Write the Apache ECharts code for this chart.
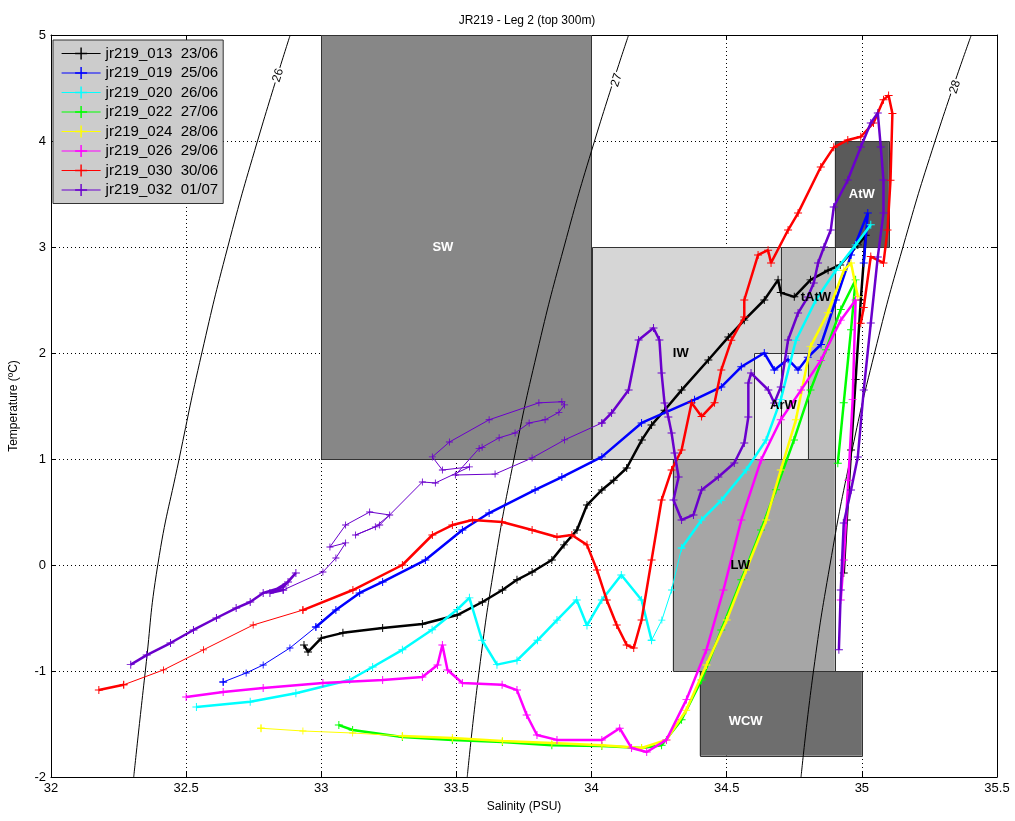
<!DOCTYPE html>
<html>
<head>
<meta charset="utf-8">
<script src="https://cdn.jsdelivr.net/npm/echarts@6/dist/echarts.min.js"></script>
<style>
html,body{margin:0;padding:0;background:#fff;}
#chart{width:1015px;height:821px;}
</style>
</head>
<body>
<div id="chart"></div>
<script>
// ---- data (salinity PSU, temperature degC) ----
const names = ['jr219_013  23/06','jr219_019  25/06','jr219_020  26/06','jr219_022  27/06','jr219_024  28/06','jr219_026  29/06','jr219_030  30/06','jr219_032  01/07'];

const s013 = [[32.936,-0.755],[32.951,-0.82],[33.0,-0.69],[33.08,-0.64],[33.227,-0.594],[33.374,-0.557],[33.503,-0.472],[33.596,-0.349],[33.67,-0.236],[33.724,-0.14],[33.78,-0.066],[33.853,0.047],[33.898,0.19],[33.946,0.33],[33.983,0.566],[34.038,0.708],[34.082,0.80],[34.13,0.915],[34.186,1.18],[34.222,1.32],[34.27,1.46],[34.333,1.65],[34.432,1.934],[34.506,2.15],[34.565,2.31],[34.639,2.5],[34.69,2.69],[34.70,2.57],[34.75,2.53],[34.81,2.69],[34.875,2.78],[34.92,2.83],[34.985,3.02],[35.014,3.11],[34.996,2.5],[34.977,1.75],[34.96,1.085],[34.944,0.425],[34.933,-0.076]];

const s019 = [[32.637,-1.104],[32.722,-1.019],[32.785,-0.943],[32.884,-0.783],[32.98,-0.585],[33.054,-0.425],[33.142,-0.264],[33.227,-0.16],[33.385,0.047],[33.522,0.33],[33.621,0.49],[33.791,0.708],[33.89,0.83],[34.038,1.02],[34.185,1.34],[34.381,1.56],[34.48,1.68],[34.554,1.87],[34.639,2.0],[34.676,1.84],[34.727,1.94],[34.764,1.84],[34.80,1.96],[34.849,2.08],[34.904,2.5],[34.96,2.925],[35.022,3.32],[35.007,2.85]];

const s020 = [[32.538,-1.34],[32.737,-1.29],[32.906,-1.21],[33.105,-1.085],[33.19,-0.962],[33.30,-0.80],[33.41,-0.61],[33.503,-0.42],[33.548,-0.31],[33.595,-0.71],[33.65,-0.94],[33.724,-0.90],[33.80,-0.71],[33.872,-0.52],[33.945,-0.33],[33.983,-0.57],[34.038,-0.33],[34.11,-0.094],[34.185,-0.33],[34.222,-0.71],[34.26,-0.52],[34.296,-0.236],[34.333,0.16],[34.407,0.425],[34.48,0.61],[34.572,0.896],[34.646,1.18],[34.70,1.56],[34.756,2.12],[34.83,2.5],[34.904,2.78],[34.977,3.02],[35.033,3.21]];

const s022 = [[33.065,-1.51],[33.116,-1.557],[33.30,-1.623],[33.485,-1.65],[33.67,-1.67],[33.853,-1.70],[34.038,-1.708],[34.185,-1.727],[34.259,-1.70],[34.333,-1.46],[34.407,-1.085],[34.48,-0.613],[34.554,-0.14],[34.627,0.33],[34.682,0.71],[34.749,1.18],[34.81,1.65],[34.867,2.03],[34.922,2.41],[34.977,2.69],[34.96,2.22],[34.933,1.53],[34.911,0.96]];

const s024 = [[32.777,-1.54],[32.932,-1.566],[33.116,-1.585],[33.30,-1.613],[33.485,-1.632],[33.67,-1.66],[33.853,-1.68],[34.038,-1.70],[34.185,-1.727],[34.277,-1.65],[34.35,-1.37],[34.425,-0.943],[34.50,-0.519],[34.572,-0.047],[34.646,0.425],[34.70,0.896],[34.756,1.37],[34.81,2.06],[34.874,2.38],[34.933,2.78],[34.96,2.85],[34.985,2.53]];

const s026 = [[32.50,-1.245],[32.637,-1.198],[32.785,-1.16],[33.006,-1.113],[33.227,-1.085],[33.374,-1.057],[33.43,-0.943],[33.448,-0.755],[33.467,-0.99],[33.522,-1.113],[33.669,-1.13],[33.724,-1.18],[33.76,-1.415],[33.798,-1.604],[33.872,-1.65],[34.038,-1.65],[34.104,-1.54],[34.148,-1.727],[34.204,-1.764],[34.277,-1.65],[34.351,-1.27],[34.425,-0.80],[34.488,-0.236],[34.554,0.425],[34.627,0.99],[34.70,1.37],[34.775,1.65],[34.848,1.93],[34.922,2.31],[34.977,2.5],[34.966,1.56],[34.95,0.80],[34.933,0.047],[34.922,-0.33]];

const s030 = [[32.177,-1.18],[32.269,-1.13],[32.416,-0.99],[32.564,-0.80],[32.748,-0.566],[32.932,-0.425],[33.117,-0.236],[33.30,0.0],[33.411,0.283],[33.485,0.377],[33.559,0.425],[33.669,0.406],[33.78,0.33],[33.872,0.264],[33.927,0.283],[33.983,0.19],[34.02,-0.047],[34.056,-0.33],[34.093,-0.566],[34.13,-0.755],[34.156,-0.783],[34.185,-0.519],[34.222,0.047],[34.259,0.613],[34.296,0.896],[34.333,1.085],[34.37,1.53],[34.407,1.40],[34.455,1.53],[34.48,1.84],[34.517,2.12],[34.565,2.34],[34.565,2.50],[34.616,2.925],[34.653,2.97],[34.664,2.85],[34.727,3.16],[34.764,3.32],[34.848,3.755],[34.896,3.94],[34.948,4.01],[34.996,4.04],[35.043,4.17],[35.08,4.39],[35.099,4.43],[35.113,4.26],[35.106,3.63],[35.095,3.16],[35.08,2.85],[35.033,2.91],[35.007,2.43],[34.996,2.28]];

const s032 = [[32.295,-0.94],[32.354,-0.85],[32.442,-0.736],[32.527,-0.613],[32.612,-0.50],[32.685,-0.406],[32.737,-0.349],[32.785,-0.264],[32.859,-0.208],[32.906,-0.075],[32.877,-0.16],[32.81,-0.264],[32.859,-0.236],[33.006,-0.066],[33.054,0.066],[33.09,0.208],[33.032,0.17],[33.09,0.377],[33.179,0.50],[33.253,0.472],[33.20,0.36],[33.127,0.283],[33.216,0.377],[33.374,0.783],[33.422,0.774],[33.548,0.925],[33.448,0.896],[33.411,1.02],[33.474,1.16],[33.621,1.37],[33.805,1.53],[33.89,1.54],[33.90,1.51],[33.879,1.44],[33.828,1.37],[33.769,1.34],[33.717,1.245],[33.658,1.20],[33.595,1.11],[33.584,1.10],[33.496,0.849],[33.643,0.858],[33.78,1.01],[33.90,1.18],[34.038,1.34],[34.074,1.434],[34.137,1.651],[34.174,2.123],[34.229,2.236],[34.251,2.123],[34.259,1.811],[34.27,1.528],[34.284,1.396],[34.296,1.245],[34.307,1.057],[34.322,0.83],[34.303,0.613],[34.333,0.425],[34.377,0.472],[34.407,0.708],[34.469,0.83],[34.528,0.962],[34.565,1.151],[34.58,1.396],[34.58,1.717],[34.59,1.811],[34.654,1.651],[34.676,1.528],[34.70,1.679],[34.727,2.123],[34.764,2.377],[34.80,2.528],[34.822,2.66],[34.838,2.849],[34.86,3.0],[34.885,3.16],[34.896,3.377],[34.948,3.632],[34.996,3.943],[35.033,4.17],[35.059,4.264],[35.07,3.943],[35.08,3.632],[35.08,3.32],[35.059,2.906],[35.033,2.283],[35.007,1.651],[34.985,1.019],[34.96,0.708],[34.933,0.396],[34.922,-0.236],[34.915,-0.80]];

const profiles = [s013,s019,s020,s022,s024,s026,s030,s032];
// index ranges of each cast that were drawn as a sparse thin line
const thinRanges = [[],[[0,4]],[[19,22]],[],[[0,3]],[],[[1,5]],[[12,44]]];

// isopycnals (sigma-t): salinity at T = -2..5
const isoT = [-2,-1,0,1,2,3,4,5];
const iso26 = [32.306,32.349,32.395,32.474,32.558,32.654,32.764,32.885];
const iso27 = [33.540,33.584,33.641,33.713,33.798,33.898,34.011,34.137];
const iso28 = [34.775,34.821,34.882,34.957,35.047,35.152,35.271,35.405];
const isoLabels = ['26','27','28'];
const isoLabelPos = [[32.84,4.62],[34.093,4.575],[35.345,4.51]];

// water-mass boxes: [Smin, Smax, Tmin, Tmax]
const boxNames = ['SW','IW','tAtW','ArW','LW','WCW','AtW'];
const boxExtents = [[33.0,34.0,1,5],[34.0,34.9,1,3],[34.7,34.9,1,3],[34.6,34.8,1,2],[34.3,34.9,-1,1],[34.4,35.0,-1.8,-1],[34.9,35.1,3,4]];
const boxLabelPos = [[33.45,3.0],[34.33,2.0],[34.83,2.52],[34.71,1.51],[34.55,0.0],[34.57,-1.48],[35.0,3.5]];

// ---- styles ----
const lineColors = ['#000000','#0000ff','#00ffff','#00ff00','#ffff00','#ff00ff','#ff0000','#6a00cc'];
const boxFills = ['#878787','#d6d6d6','#bdbdbd','#efefef','#a6a6a6','#6e6e6e','#5a5a5a'];
const boxTextColors = ['#ffffff','#000000','#000000','#000000','#000000','#ffffff','#ffffff'];
const FONT = 'Liberation Sans, Arial, Helvetica, sans-serif';
const PLUS = 'path://M0,4.4H10V5.6H0Z M4.4,0H5.6V10H4.4Z';

const chart = echarts.init(document.getElementById('chart'), null, {renderer:'canvas'});

function toPairs(arrS){ return arrS.map((s,i)=>[s, isoT[i]]); }

const series = [];
// box fills
series.push({
  type:'custom', z:1, silent:true, clip:true,
  data: boxExtents.map((b,i)=>[b[0],b[1],b[2],b[3],i]),
  renderItem(params, api){
    const i = api.value(4);
    const p0 = api.coord([api.value(0), api.value(3)]);
    const p1 = api.coord([api.value(1), api.value(2)]);
    return {type:'rect', shape:{x:p0[0], y:p0[1], width:p1[0]-p0[0], height:p1[1]-p0[1]}, style:{fill:boxFills[i], stroke:null}};
  }
});
// box borders
series.push({
  type:'custom', z:2, silent:true, clip:true,
  data: boxExtents.map((b,i)=>[b[0],b[1],b[2],b[3],i]),
  renderItem(params, api){
    const p0 = api.coord([api.value(0), api.value(3)]);
    const p1 = api.coord([api.value(1), api.value(2)]);
    return {type:'rect', shape:{x:Math.round(p0[0])+0.5, y:Math.round(p0[1])+0.5, width:Math.round(p1[0]-p0[0]), height:Math.round(p1[1]-p0[1])}, style:{fill:null, stroke:'#333333', lineWidth:1}};
  }
});
// isopycnals
[iso26, iso27, iso28].forEach((iso)=>{
  series.push({type:'line', z:3, silent:true, symbol:'none', data: toPairs(iso), smooth:true,
    lineStyle:{color:'#000', width:1}});
});
// profiles (thick dense parts + thin sparse parts, same legend name)
profiles.forEach((p,i)=>{
  const thick = p.map(v=>v.slice());
  thinRanges[i].forEach(([a,b])=>{ for(let k=a+1;k<b;k++) thick[k] = '-'; });
  series.push({type:'line', name:names[i], z:5+i, data:thick, symbol:PLUS, symbolSize:8,
    showAllSymbol:true, connectNulls:false,
    itemStyle:{color:lineColors[i]}, lineStyle:{color:lineColors[i], width:2.5}});
  thinRanges[i].forEach(([a,b])=>{
    series.push({type:'line', name:names[i], z:5+i, data:p.slice(a,b+1), symbol:PLUS, symbolSize:7,
      showAllSymbol:true,
      itemStyle:{color:lineColors[i]}, lineStyle:{color:lineColors[i], width:1}});
  });
});
// box labels
series.push({
  type:'custom', z:20, silent:true,
  data: boxLabelPos.map((p,i)=>[p[0],p[1],i]),
  renderItem(params, api){
    const i = api.value(2);
    const c = api.coord([api.value(0), api.value(1)]);
    return {type:'text', x:c[0], y:c[1], style:{text:boxNames[i], fill:boxTextColors[i], font:'bold 13px '+FONT, align:'center', verticalAlign:'middle'}};
  }
});
// isopycnal labels
series.push({
  type:'custom', z:20, silent:true,
  data: isoLabelPos.map((p,i)=>[p[0],p[1],i]),
  renderItem(params, api){
    const i = api.value(2);
    const c = api.coord([api.value(0), api.value(1)]);
    return {type:'text', x:c[0], y:c[1], rotation: 72*Math.PI/180,
      style:{text:isoLabels[i], fill:'#000', font:'12px '+FONT, align:'center', verticalAlign:'middle', backgroundColor:'#fff', padding:[0,1]}};
  }
});

const option = {
  animation:false,
  backgroundColor:'#ffffff',
  title:{text:'JR219 - Leg 2 (top 300m)', left:522, textAlign:'center', top:10,
    textStyle:{fontFamily:FONT, fontSize:12, fontWeight:'normal', color:'#000'}},
  grid:{left:47, right:18, top:35, bottom:44, show:false},
  legend:{
    data:names, orient:'vertical', left:53, top:40, width:169,
    backgroundColor:'#cccccc', borderColor:'#333', borderWidth:1,
    padding:[6,5,6,8], itemGap:4.5, itemWidth:39, itemHeight:15,
    textStyle:{fontFamily:FONT, fontSize:15, color:'#000'},
    lineStyle:{width:1.2},
    selectedMode:false
  },
  xAxis:[{
    type:'value', min:32, max:35.5, interval:0.5,
    name:'Salinity (PSU)', nameLocation:'middle', nameGap:24,
    nameTextStyle:{fontFamily:FONT, fontSize:12, color:'#000'},
    axisLine:{show:true, onZero:false, lineStyle:{color:'#000'}},
    axisTick:{show:true, inside:true, length:5, lineStyle:{color:'#000'}},
    axisLabel:{fontFamily:FONT, fontSize:13, color:'#000', margin:5, formatter:v=>String(+v.toFixed(1))},
    splitLine:{show:true, lineStyle:{color:'#000', type:[1,3], width:1}}
  },{
    type:'value', min:32, max:35.5, interval:0.5, position:'top',
    axisLine:{show:true, onZero:false, lineStyle:{color:'#000'}},
    axisTick:{show:true, inside:true, length:5, lineStyle:{color:'#000'}},
    axisLabel:{show:false}, splitLine:{show:false}
  }],
  yAxis:[{
    type:'value', min:-2, max:5, interval:1,
    name:'Temperature (ºC)', nameLocation:'middle', nameGap:31,
    nameTextStyle:{fontFamily:FONT, fontSize:12, color:'#000'},
    axisLine:{show:true, onZero:false, lineStyle:{color:'#000'}},
    axisTick:{show:true, inside:true, length:5, lineStyle:{color:'#000'}},
    axisLabel:{fontFamily:FONT, fontSize:13, color:'#000', margin:5},
    splitLine:{show:true, lineStyle:{color:'#000', type:[1,3], width:1}}
  },{
    type:'value', min:-2, max:5, interval:1, position:'right',
    axisLine:{show:true, onZero:false, lineStyle:{color:'#000'}},
    axisTick:{show:true, inside:true, length:5, lineStyle:{color:'#000'}},
    axisLabel:{show:false}, splitLine:{show:false}
  }],
  series: series
};
chart.setOption(option);
</script>
</body>
</html>
